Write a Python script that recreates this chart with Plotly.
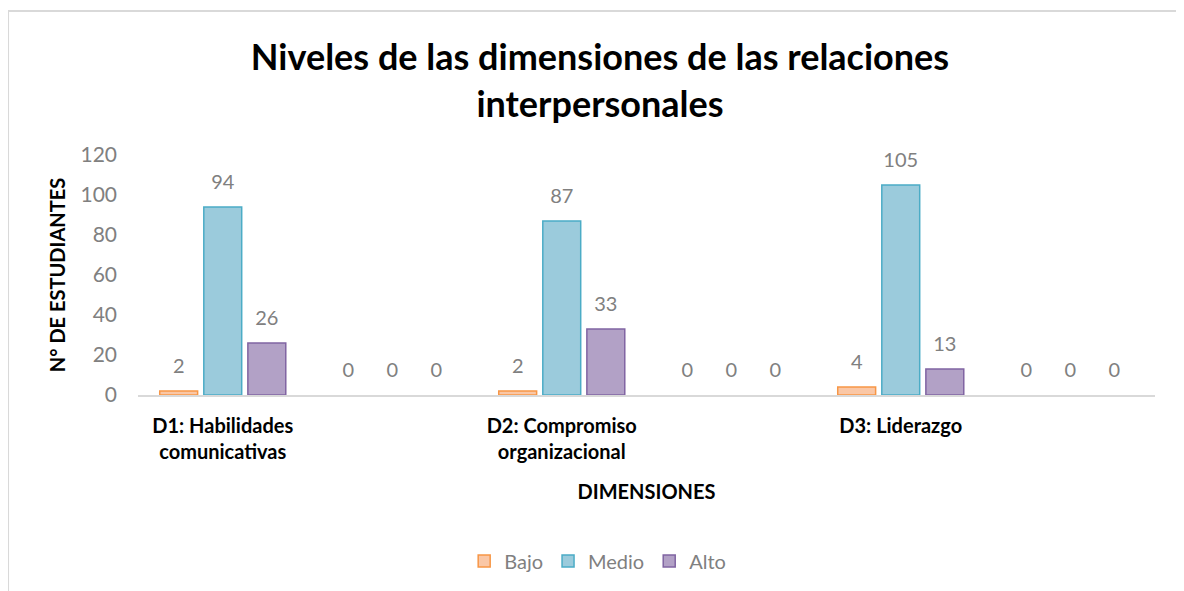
import plotly.graph_objects as go

# Data
categories = ["D1: Habilidades<br>comunicativas", "", "D2: Compromiso<br>organizacional", "", "D3: Liderazgo", ""]
bajo = [2, 0, 2, 0, 4, 0]
medio = [94, 0, 87, 0, 105, 0]
alto = [26, 0, 33, 0, 13, 0]
y_ticks = [0, 20, 40, 60, 80, 100, 120]

x_pos = list(range(len(categories)))
FONT = "Lato, Open Sans, sans-serif"

series = [
    ("Bajo", bajo, "#FAC7A6", "#F79646"),
    ("Medio", medio, "#9BCBDC", "#4BACC6"),
    ("Alto", alto, "#B2A1C6", "#8064A2"),
]

fig = go.Figure()
for i, (name, vals, fill, line) in enumerate(series):
    fig.add_trace(go.Bar(
        x=x_pos, y=vals, name=name, offsetgroup=str(i), alignmentgroup="a",
        marker=dict(color=fill, line=dict(color=line, width=[1.5 if v > 0 else 0 for v in vals])),
    ))
for i, (name, vals, fill, line) in enumerate(series):
    fig.add_trace(go.Scatter(
        x=x_pos, y=vals, mode="markers+text", offsetgroup=str(i), alignmentgroup="a",
        text=[str(v) for v in vals], textposition="top center",
        marker=dict(size=20, color="rgba(0,0,0,0)"),
        textfont=dict(family=FONT, size=20, color="#808080"),
        showlegend=False, hoverinfo="skip", cliponaxis=False,
    ))

fig.update_layout(
    width=1184, height=591,
    margin=dict(l=130, r=37, t=147, b=204),
    paper_bgcolor="white", plot_bgcolor="white",
    barmode="group", bargap=0.22, bargroupgap=0.14,
    scattermode="group",
    title=dict(
        text="Niveles de las dimensiones de las relaciones<br>interpersonales",
        x=0.5, xanchor="center", y=0.895, yanchor="top",
        font=dict(family=FONT, size=36, color="black", weight="bold"),
    ),
    xaxis=dict(
        tickmode="array", tickvals=x_pos, ticktext=[f"<b>{c}</b>" for c in categories],
        range=[-0.5, len(categories) - 0.5],
        showline=True, linecolor="#D9D9D9", linewidth=1.5,
        ticks="", showgrid=False, zeroline=False, ticklabelstandoff=12,
        tickfont=dict(family=FONT, size=20, color="black"),
        title=dict(text="<b>DIMENSIONES</b>", standoff=23,
                   font=dict(family=FONT, size=20, color="black")),
    ),
    yaxis=dict(
        range=[0, 120], tickvals=y_ticks,
        showgrid=False, zeroline=False, showline=False, ticks="",
        ticklabelstandoff=20,
        tickfont=dict(family=FONT, size=21, color="#808080"),
        title=dict(text="<b>N° DE ESTUDIANTES</b>", standoff=9,
                   font=dict(family=FONT, size=20, color="black")),
    ),
    legend=dict(
        orientation="h", x=0.452, xanchor="center", y=-0.692, yanchor="middle",
        font=dict(family=FONT, size=20, color="#808080"),
        itemwidth=30, traceorder="normal",
    ),
    showlegend=True,
    shapes=[dict(type="rect", xref="paper", yref="paper",
                 x0=-0.1278, x1=1.0275, y0=-0.9, y1=1.6,
                 line=dict(color="#D9D9D9", width=2), fillcolor="rgba(0,0,0,0)", layer="below")],
)

fig.write_html("out.html")
